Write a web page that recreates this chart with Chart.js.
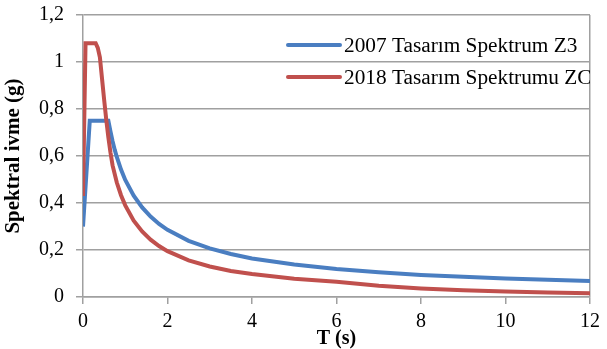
<!DOCTYPE html>
<html>
<head>
<meta charset="utf-8">
<script src="https://cdn.jsdelivr.net/npm/chart.js@4"></script>
<style>
  html, body { margin: 0; padding: 0; background: #fff; }
  #wrap { width: 607px; height: 349px; }
</style>
</head>
<body>
<div id="wrap"><canvas id="spektrumCanvas" width="607" height="349"></canvas></div>
<script>
// Datos
const periodos2007 = [0, 0.16, 0.6, 0.65, 0.7, 0.75, 0.8, 0.9, 1.0, 1.2, 1.4, 1.6, 1.8, 2.0, 2.5, 3, 3.5, 4, 5, 6, 7, 8, 9, 10, 11, 12];
const ivme2007 = [0.30, 0.75, 0.75, 0.705, 0.663, 0.627, 0.596, 0.542, 0.498, 0.431, 0.381, 0.342, 0.311, 0.286, 0.239, 0.207, 0.183, 0.164, 0.138, 0.119, 0.105, 0.094, 0.086, 0.079, 0.073, 0.068];

const periodos2018 = [0, 0.06, 0.3, 0.35, 0.4, 0.45, 0.5, 0.55, 0.6, 0.65, 0.7, 0.8, 0.9, 1.0, 1.2, 1.4, 1.6, 1.8, 2.0, 2.5, 3, 3.5, 4, 5, 6, 7, 8, 9, 10, 11, 12];
const ivme2018 = [0.43, 1.08, 1.08, 1.06, 1.02, 0.93, 0.84, 0.755, 0.68, 0.615, 0.56, 0.487, 0.433, 0.39, 0.325, 0.279, 0.244, 0.217, 0.195, 0.156, 0.13, 0.111, 0.0975, 0.078, 0.065, 0.048, 0.0366, 0.0289, 0.0234, 0.0193, 0.0163];

const seriesLabels = ['2007 Tasarım Spektrum Z3', '2018 Tasarım Spektrumu ZC'];
const xTickValues = [0, 2, 4, 6, 8, 10, 12];
const yTickLabels = ['0', '0,2', '0,4', '0,6', '0,8', '1', '1,2'];
const xTitle = 'T (s)';
const yTitle = 'Spektral ivme (g)';

const AZUL = '#4A7EC1';
const ROJO = '#C0504D';
const GRIS = '#a0a0a0';
const FUENTE = '"Liberation Serif", "Times New Roman", serif';

function toPoints(xs, ys) {
  return xs.map((x, i) => ({ x: x, y: ys[i] }));
}

// Títulos de ejes y leyenda dibujados a mano
const extrasPlugin = {
  id: 'extras',
  afterDraw(chart) {
    const { ctx, chartArea } = chart;
    ctx.save();
    ctx.fillStyle = '#000';

    // título eje Y
    ctx.font = 'bold 21px ' + FUENTE;
    ctx.textAlign = 'center';
    ctx.textBaseline = 'middle';
    ctx.save();
    ctx.translate(14, (chartArea.top + chartArea.bottom) / 2);
    ctx.rotate(-Math.PI / 2);
    ctx.fillText(yTitle, 0, 0);
    ctx.restore();

    // título eje X
    ctx.font = 'bold 20px ' + FUENTE;
    ctx.fillText(xTitle, (chartArea.left + chartArea.right) / 2, 339);

    // leyenda (recortada al borde derecho del área)
    ctx.beginPath();
    ctx.rect(0, 0, chartArea.right, chart.height);
    ctx.clip();
    const filas = [{ y: 45, color: AZUL }, { y: 77, color: ROJO }];
    ctx.font = '21.3px ' + FUENTE;
    ctx.textAlign = 'left';
    filas.forEach((f, i) => {
      ctx.strokeStyle = f.color;
      ctx.lineWidth = 4;
      ctx.lineCap = 'round';
      ctx.beginPath();
      ctx.moveTo(288, f.y);
      ctx.lineTo(340, f.y);
      ctx.stroke();
      ctx.fillText(seriesLabels[i], 344, f.y + 1);
    });
    ctx.restore();
  }
};

function renderSpektrum() {
  const ctx = document.getElementById('spektrumCanvas').getContext('2d');

  new Chart(ctx, {
    type: 'line',
    data: {
      datasets: [
        {
          label: seriesLabels[0],
          data: toPoints(periodos2007, ivme2007),
          borderColor: AZUL,
          borderWidth: 4,
          pointRadius: 0,
          tension: 0,
          order: 1
        },
        {
          label: seriesLabels[1],
          data: toPoints(periodos2018, ivme2018),
          borderColor: ROJO,
          borderWidth: 4,
          pointRadius: 0,
          tension: 0,
          order: 0
        }
      ]
    },
    options: {
      responsive: false,
      animation: false,
      events: [],
      layout: { padding: { top: 15, right: 17, left: 0, bottom: 0 } },
      plugins: {
        legend: { display: false },
        tooltip: { enabled: false }
      },
      scales: {
        x: {
          type: 'linear',
          min: 0,
          max: 12,
          afterFit: (scale) => {
            scale.height = 52;
            scale.paddingLeft = 0;
            scale.paddingRight = 0;
          },
          afterBuildTicks: (scale) => { scale.ticks = xTickValues.map(v => ({ value: v })); },
          ticks: {
            color: '#000',
            font: { family: FUENTE, size: 20 },
            padding: 6,
            maxRotation: 0,
            callback: (v) => String(v)
          },
          grid: {
            color: (c) => (c.tick && c.tick.value === 12 ? GRIS : 'rgba(0,0,0,0)'),
            tickColor: GRIS,
            tickLength: 7,
            lineWidth: 1.5
          },
          border: { display: true, color: GRIS, width: 1.5 }
        },
        y: {
          min: 0,
          max: 1.2,
          afterFit: (scale) => {
            scale.width = 83;
            scale.paddingTop = 0;
            scale.paddingBottom = 0;
          },
          ticks: {
            stepSize: 0.2,
            color: '#000',
            font: { family: FUENTE, size: 20 },
            padding: 12,
            callback: (v, i) => yTickLabels[i]
          },
          grid: {
            color: GRIS,
            tickColor: GRIS,
            tickLength: 7,
            lineWidth: 1.5
          },
          border: { display: true, color: GRIS, width: 1.5 }
        }
      }
    },
    plugins: [extrasPlugin]
  });
}

document.addEventListener('DOMContentLoaded', renderSpektrum);
</script>
</body>
</html>
